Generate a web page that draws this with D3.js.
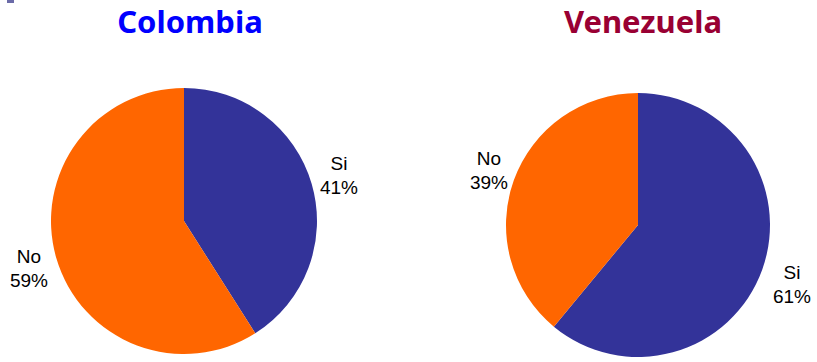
<!DOCTYPE html>
<html><head><meta charset="utf-8">
<script src="https://cdn.jsdelivr.net/npm/d3@7"></script>
<style>body{margin:0;background:#fff}svg{display:block}</style>
</head><body>
<svg id="c" width="817" height="362"></svg>
<script>
const categories = ["Si", "No"];
const colombiaValues = [41, 59];
const venezuelaValues = [61, 39];
const countries = ["Colombia", "Venezuela"];

const svg = d3.select("#c");
const color = d3.scaleOrdinal().domain(categories).range(["#333399", "#FF6600"]);

svg.append("rect").attr("x", 7).attr("y", 0).attr("width", 7).attr("height", 3).attr("fill", "#6b6ba8");

const charts = [
  {name: countries[0], values: colombiaValues, cx: 184, cy: 221, r: 133, tx: 190, titleColor: "#0000ff",
   labels: [{x: 339, y: 170}, {x: 29, y: 263}]},
  {name: countries[1], values: venezuelaValues, cx: 638, cy: 225, r: 132, tx: 643, titleColor: "#990033",
   labels: [{x: 792, y: 279}, {x: 489, y: 165}]}
];

const pie = d3.pie().sort(null).value(d => d.v);

charts.forEach(ch => {
  svg.append("text").attr("x", ch.tx).attr("y", 33).attr("text-anchor", "middle")
    .attr("font-family", "'Noto Sans', sans-serif").attr("font-weight", "bold")
    .attr("font-size", 31).attr("fill", ch.titleColor).text(ch.name);
  const data = categories.map((c, i) => ({c, v: ch.values[i]}));
  const arc = d3.arc().innerRadius(0).outerRadius(ch.r);
  const g = svg.append("g").attr("transform", `translate(${ch.cx},${ch.cy})`);
  g.selectAll("path").data(pie(data)).join("path").attr("d", arc).attr("fill", d => color(d.data.c));
  data.forEach((d, i) => {
    const t = svg.append("text").attr("x", ch.labels[i].x).attr("y", ch.labels[i].y)
      .attr("text-anchor", "middle").attr("font-family", "'Liberation Sans', Arial, sans-serif")
      .attr("font-size", 19).attr("fill", "#000");
    t.append("tspan").attr("x", ch.labels[i].x).text(d.c);
    t.append("tspan").attr("x", ch.labels[i].x).attr("dy", 24).text(d.v + "%");
  });
});
</script>
</body></html>
